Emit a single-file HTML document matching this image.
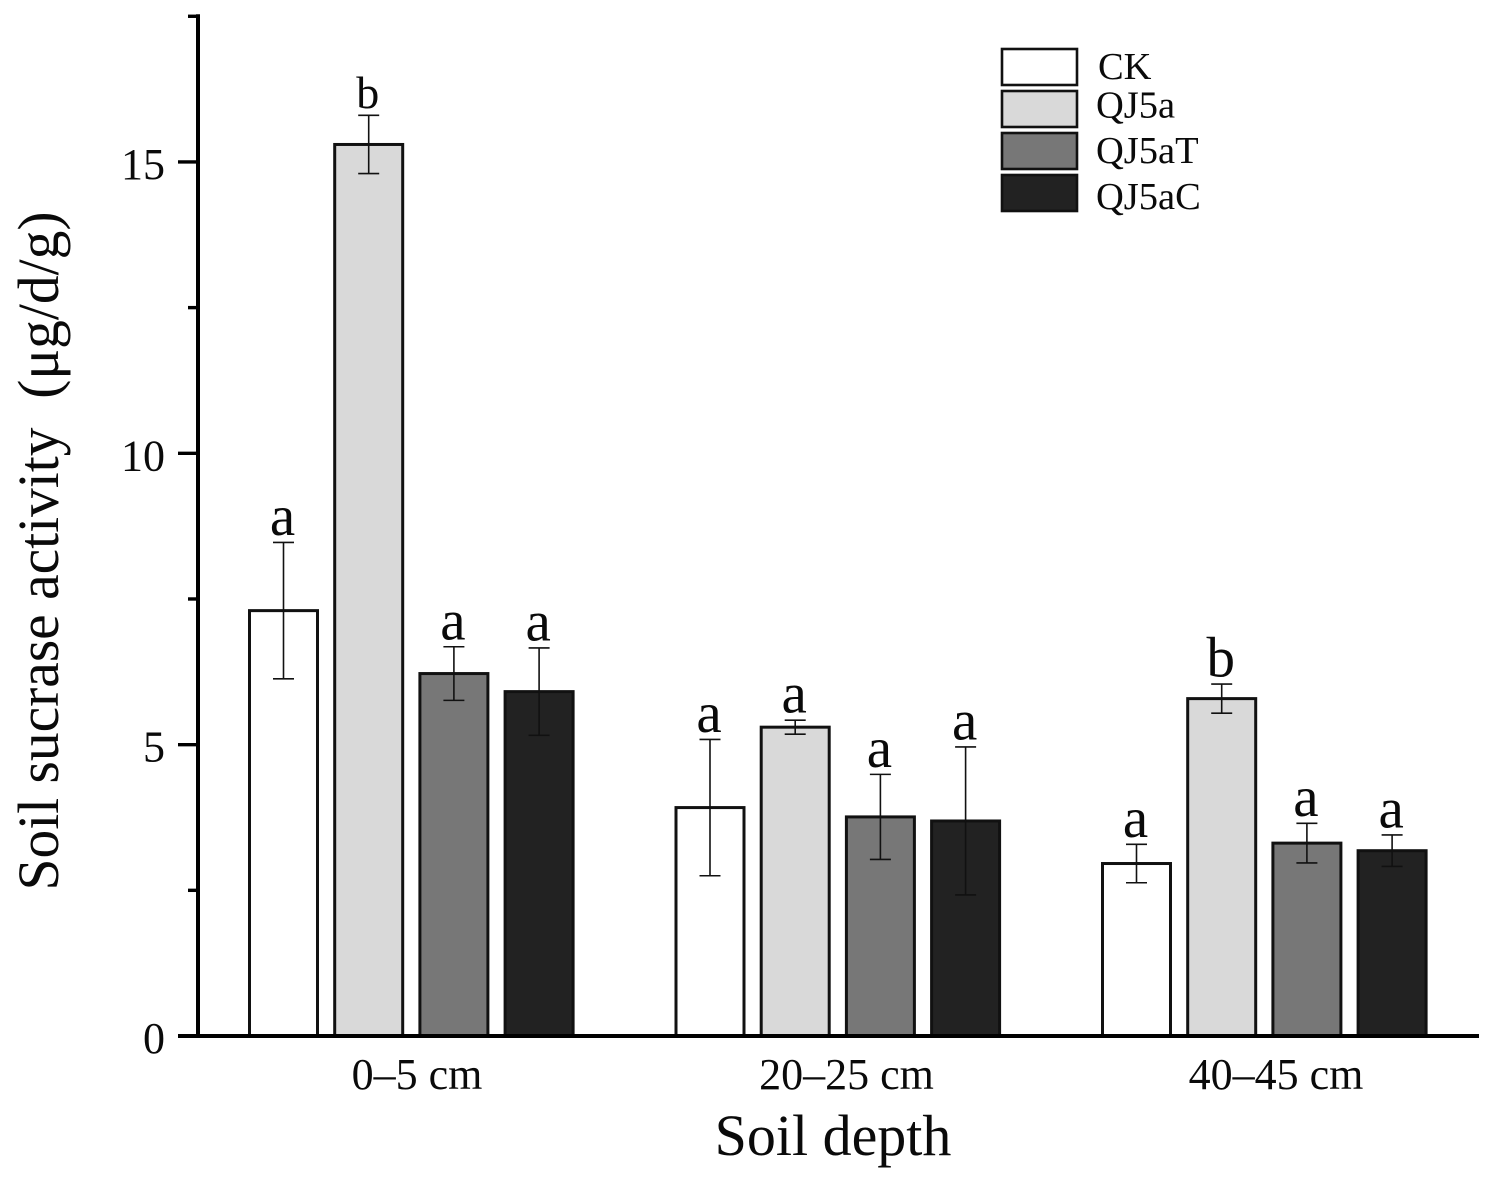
<!DOCTYPE html>
<html lang="en">
<head>
<meta charset="utf-8">
<title>Soil sucrase activity</title>
<style>
html,body{margin:0;padding:0;background:#fff;}
svg{display:block;}
text{font-family:"Liberation Serif","Times New Roman",serif;fill:#0a0a0a;}
</style>
</head>
<body>
<svg id="chart" width="1494" height="1183" viewBox="0 0 1494 1183" xmlns="http://www.w3.org/2000/svg"></svg>
<script>
const categories = ["0–5 cm", "20–25 cm", "40–45 cm"];
const seriesNames = ["CK", "QJ5a", "QJ5aT", "QJ5aC"];
const valuesCK = [7.30, 3.92, 2.96];
const valuesQJ5a = [15.30, 5.30, 5.79];
const valuesQJ5aT = [6.22, 3.76, 3.31];
const valuesQJ5aC = [5.91, 3.69, 3.18];
const errorsCK = [1.17, 1.17, 0.33];
const errorsQJ5a = [0.50, 0.12, 0.25];
const errorsQJ5aT = [0.46, 0.73, 0.34];
const errorsQJ5aC = [0.75, 1.27, 0.27];
const lettersCK = ["a", "a", "a"];
const lettersQJ5a = ["b", "a", "b"];
const lettersQJ5aT = ["a", "a", "a"];
const lettersQJ5aC = ["a", "a", "a"];
const majorTicks = [0, 5, 10, 15];
const minorTicks = [2.5, 7.5, 12.5, 17.5];

const allValues = [valuesCK, valuesQJ5a, valuesQJ5aT, valuesQJ5aC];
const allErrors = [errorsCK, errorsQJ5a, errorsQJ5aT, errorsQJ5aC];
const allLetters = [lettersCK, lettersQJ5a, lettersQJ5aT, lettersQJ5aC];
const fills = ["#ffffff", "#d9d9d9", "#777777", "#222222"];

const svg = document.getElementById('chart');
const NS = 'http://www.w3.org/2000/svg';
const yAxisX = 198, baseY = 1036;

function yScale(v) { return baseY - v * 58.27; }
function barLeft(g, s) { return 249.5 + g * 426.5 + s * 85.2; }
function categoryLabelX(g) { return 417 + g * 429.5; }
function legendLabelY(s) { return 79 + s * 43.3 + (s === 1 ? -5 : 0) + (s === 2 ? -2.6 : 0); }
const barWidth = 68;

function make(tag, attrs, parent) {
  const el = document.createElementNS(NS, tag);
  for (const k in attrs) el.setAttribute(k, attrs[k]);
  (parent || svg).appendChild(el);
  return el;
}

/* bars, error bars, significance letters */
categories.forEach(function (cat, g) {
  seriesNames.forEach(function (name, s) {
    const v = allValues[s][g], e = allErrors[s][g], x = barLeft(g, s), cx = x + barWidth / 2;
    const bar = make('rect', {x: x, y: yScale(v), width: barWidth, height: baseY - yScale(v), fill: fills[s], stroke: '#111', 'stroke-width': 3});
    
    

    const eb = make('g', {stroke: '#111', 'stroke-width': 1.6, fill: 'none'});
    
    
    make('line', {x1: cx, x2: cx, y1: yScale(v + e), y2: yScale(v - e)}, eb);
    make('line', {x1: cx - 10.5, x2: cx + 10.5, y1: yScale(v + e), y2: yScale(v + e)}, eb);
    make('line', {x1: cx - 10.5, x2: cx + 10.5, y1: yScale(v - e), y2: yScale(v - e)}, eb);

    const small = (g === 0 && s === 1);
    const letter = make('text', {x: cx - 1, y: yScale(v + e) - 7.5, 'text-anchor': 'middle', 'font-size': small ? 46 : 57});
    letter.textContent = allLetters[s][g];
    
    
  });
  const label = make('text', {x: categoryLabelX(g), y: 1089, 'text-anchor': 'middle', 'font-size': 44});
  label.textContent = cat;
  
  
});

/* axes */
const yAxisLine = make('line', {x1: yAxisX, x2: yAxisX, y1: yScale(17.5) - 2, y2: baseY + 2, stroke: '#000', 'stroke-width': 4});


const xAxisLine = make('line', {x1: 178, x2: 1479, y1: baseY, y2: baseY, stroke: '#000', 'stroke-width': 4});



majorTicks.forEach(function (t) {
  const tick = make('line', {x1: 178, x2: yAxisX, y1: yScale(t), y2: yScale(t), stroke: '#000', 'stroke-width': 3.4});
  
  
  const label = make('text', {x: 165, y: yScale(t) + 17, 'text-anchor': 'end', 'font-size': 44});
  label.textContent = t;
  
  
});
minorTicks.forEach(function (t) {
  const tick = make('line', {x1: 188, x2: yAxisX, y1: yScale(t), y2: yScale(t), stroke: '#000', 'stroke-width': 3.4});
  
  
});

/* axis titles */
const xTitle = make('text', {x: 833, y: 1155, 'text-anchor': 'middle', 'font-size': 58});
xTitle.textContent = 'Soil depth';


const yTitle = make('text', {x: 0, y: 0, 'text-anchor': 'middle', 'font-size': 58, transform: 'translate(58 551) rotate(-90)', textLength: 679, lengthAdjust: 'spacingAndGlyphs', 'xml:space': 'preserve'});
yTitle.style.whiteSpace = 'pre';
yTitle.textContent = 'Soil sucrase activity  (μg/d/g)';



/* legend */
seriesNames.forEach(function (name, s) {
  const y = 49 + s * 42;
  const entry = make('g', {});
  
  
  const swatch = make('rect', {x: 1002, y: y, width: 75, height: 36, fill: fills[s], stroke: '#111', 'stroke-width': 2.6}, entry);
  
  
  const label = make('text', {x: s === 0 ? 1098 : 1096, y: legendLabelY(s), 'font-size': 38.5}, entry);
  label.textContent = name;
  
  
});
</script>
</body>
</html>
